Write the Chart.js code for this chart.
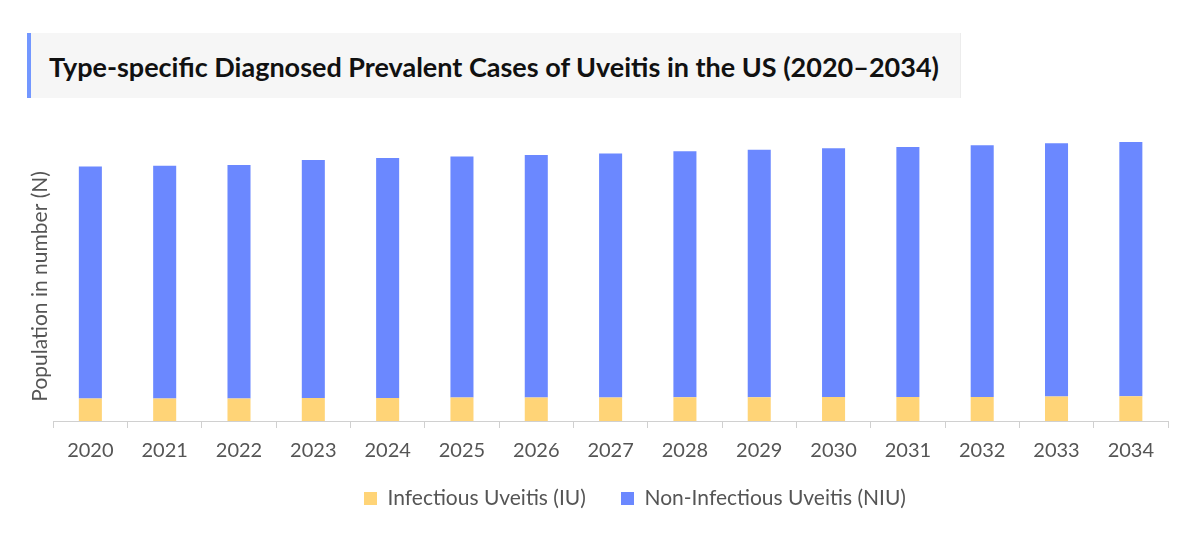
<!DOCTYPE html>
<html>
<head>
<meta charset="utf-8">
<script src="https://cdn.jsdelivr.net/npm/chart.js@4.4.1/dist/chart.umd.min.js"></script>
<style>
  body { margin: 0; background: #fff; font-family: Lato, sans-serif; }
  #wrap { position: relative; width: 1200px; height: 533px; overflow: hidden; }
  .title-box {
    position: absolute; left: 27px; top: 33px; width: 929px; height: 65px;
    background: #f6f6f6; border-left: 4px solid #7397ff; border-right: 1px solid #ececec;
  }
  .title-box h1 {
    margin: 0; padding: 3px 0 0 18px; line-height: 62px;
    font-size: 27px; font-weight: 700; color: #111; white-space: nowrap;
  }
  #chartBox { position: absolute; left: 0; top: 110px; width: 1200px; height: 423px; }
</style>
</head>
<body>
<div id="wrap">
  <div class="title-box"><h1>Type-specific Diagnosed Prevalent Cases of Uveitis in the US (2020–2034)</h1></div>
  <div id="chartBox"><canvas id="uveitisChart"></canvas></div>
</div>
<script>
// datos (escala relativa, sin eje Y visible)
const years = ["2020", "2021", "2022", "2023", "2024", "2025", "2026", "2027", "2028", "2029", "2030", "2031", "2032", "2033", "2034"];
const infectious = [22700, 22700, 22700, 23300, 23300, 23700, 23700, 23700, 24000, 24000, 24300, 24300, 24300, 24700, 25000];
const nonInfectious = [234600, 235300, 236000, 240400, 242400, 243600, 245000, 246600, 248700, 250000, 251400, 252700, 254400, 256000, 257000];
const yMax = 288000;

const grey = "#555";

// la leyenda del original no esta centrada, la movemos un poco a la derecha
const legendShift = {
  id: "legendShift",
  afterLayout(chart) {
    chart.legend.left += 37;
    chart.legend.right += 37;
  },
};

document.addEventListener("DOMContentLoaded", () => {
  const ctx = document.getElementById("uveitisChart").getContext("2d");

  new Chart(ctx, {
    type: "bar",
    data: {
      labels: years,
      datasets: [
        {
          label: "Infectious Uveitis (IU)",
          data: infectious,
          backgroundColor: "#ffd477",
          categoryPercentage: 1,
          barPercentage: 0.31,
        },
        {
          label: "Non-Infectious Uveitis (NIU)",
          data: nonInfectious,
          backgroundColor: "#6b88ff",
          categoryPercentage: 1,
          barPercentage: 0.31,
        },
      ],
    },
    options: {
      responsive: true,
      maintainAspectRatio: false,
      animation: false,
      layout: { padding: { left: 28, right: 32, top: 26, bottom: 14 } },
      plugins: {
        tooltip: { enabled: false },
        legend: {
          position: "bottom",
          labels: {
            color: grey,
            font: { family: "Lato", size: 21 },
            boxWidth: 13,
            boxHeight: 13,
            padding: 14,
            generateLabels(chart) {
              const items = Chart.defaults.plugins.legend.labels.generateLabels(chart);
              // hueco extra entre las dos entradas
              items[0].text += "\u2003 ";
              return items;
            },
          },
        },
      },
      scales: {
        x: {
          stacked: true,
          grid: { drawOnChartArea: false, drawTicks: true, tickLength: 7, color: "#d0d0d0" },
          border: { color: "#d0d0d0" },
          ticks: { color: grey, font: { family: "Lato", size: 20 }, padding: 11 },
        },
        y: {
          stacked: true,
          min: 0,
          max: yMax,
          grid: { display: false, drawTicks: false },
          border: { display: false },
          ticks: { display: false },
          title: {
            display: true,
            text: "Population in number (N)\u2003",
            color: grey,
            font: { family: "Lato", size: 21 },
            padding: 0,
          },
        },
      },
    },
    plugins: [legendShift],
  });
});
</script>
</body>
</html>
